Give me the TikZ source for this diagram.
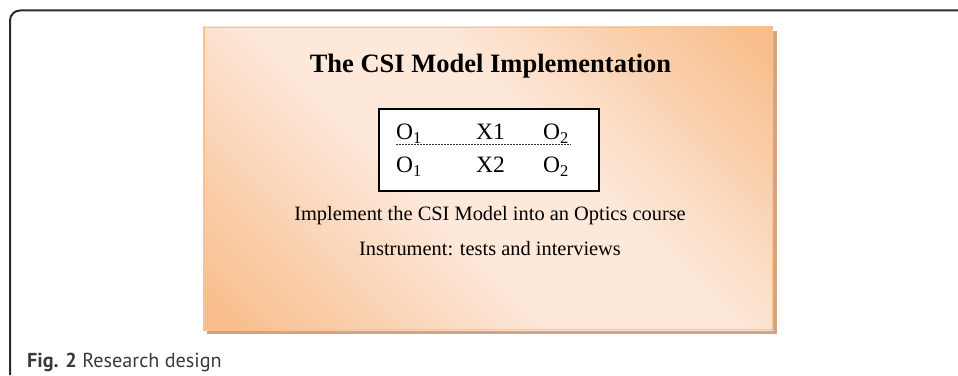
\documentclass[tikz,border=0pt]{standalone}
\usepackage{fontspec}
\setmainfont{Liberation Serif}
\newfontfamily\capfont{PT Sans}
\definecolor{dk}{HTML}{F8BE8C}
\definecolor{lt}{HTML}{FDE8DA}
\definecolor{shadowc}{HTML}{D4A482}
\definecolor{boxedge}{HTML}{F9C290}
\definecolor{framec}{HTML}{2B2B2B}
\definecolor{capc}{HTML}{3A3A3A}
\pgfdeclareverticalshading{boxshade}{100bp}{color(0bp)=(dk); color(17bp)=(dk); color(43bp)=(lt); color(58bp)=(lt); color(83bp)=(dk); color(100bp)=(dk)}
\tikzset{
  bodytext/.style={inner sep=0pt, font=\fontsize{20.4}{24}\selectfont},
  titletext/.style={inner sep=0pt, font=\fontsize{26.5}{30}\selectfont\bfseries},
  cell/.style={inner sep=0pt, anchor=base west, font=\fontsize{23.5}{26}\selectfont},
}
\begin{document}
\begin{tikzpicture}[x=1pt,y=1pt]
\useasboundingbox (0,0) rectangle (958,375);
% outer frame
\draw[framec, line width=2pt, rounded corners=10pt] (10,0) -- (10,364.5) -- (958,364.5);
% shadow and shaded box
\fill[shadowc] (207,41) rectangle (777,344);
\shade[shading=boxshade, shading angle=-45] (203,45) rectangle (773,348);
\draw[boxedge, line width=1.5pt] (203.75,45.75) rectangle (772.25,347.25);
% title
\node[titletext, anchor=base] (title) at (490.5,302) {The CSI Model Implementation};
% inner box
\node[draw=black, fill=white, line width=1.3pt, minimum width=220pt, minimum height=82pt, inner sep=0pt] (design) at (489,225) {};
\node[cell] (o1a) at (396,235) {O\textsubscript{1}};
\node[cell] (x1) at (476,235) {X1};
\node[cell] (o2a) at (543,235) {O\textsubscript{2}};
\node[cell] (o1b) at (396,202) {O\textsubscript{1}};
\node[cell] (x2) at (476,202) {X2};
\node[cell] (o2b) at (543,202) {O\textsubscript{2}};
\coordinate (dl) at (396,231);
\coordinate (dr) at (571,231);
\draw[black!80, line width=0.9pt, dash pattern=on 1.6pt off 1.4pt] (dl) -- (dr);
% lines of text
\node[bodytext, anchor=base] (impl) at (490,154) {Implement the CSI Model into an Optics course};
\node[bodytext, anchor=base] (instr) at (490,119) {Instrument: tests and interviews};
% caption
\node[inner sep=0pt, anchor=base west, text=capc, font=\capfont\fontsize{20.2}{22}\selectfont] (cap) at (27,8) {\textbf{Fig. 2} Research design};
\end{tikzpicture}
\end{document}
